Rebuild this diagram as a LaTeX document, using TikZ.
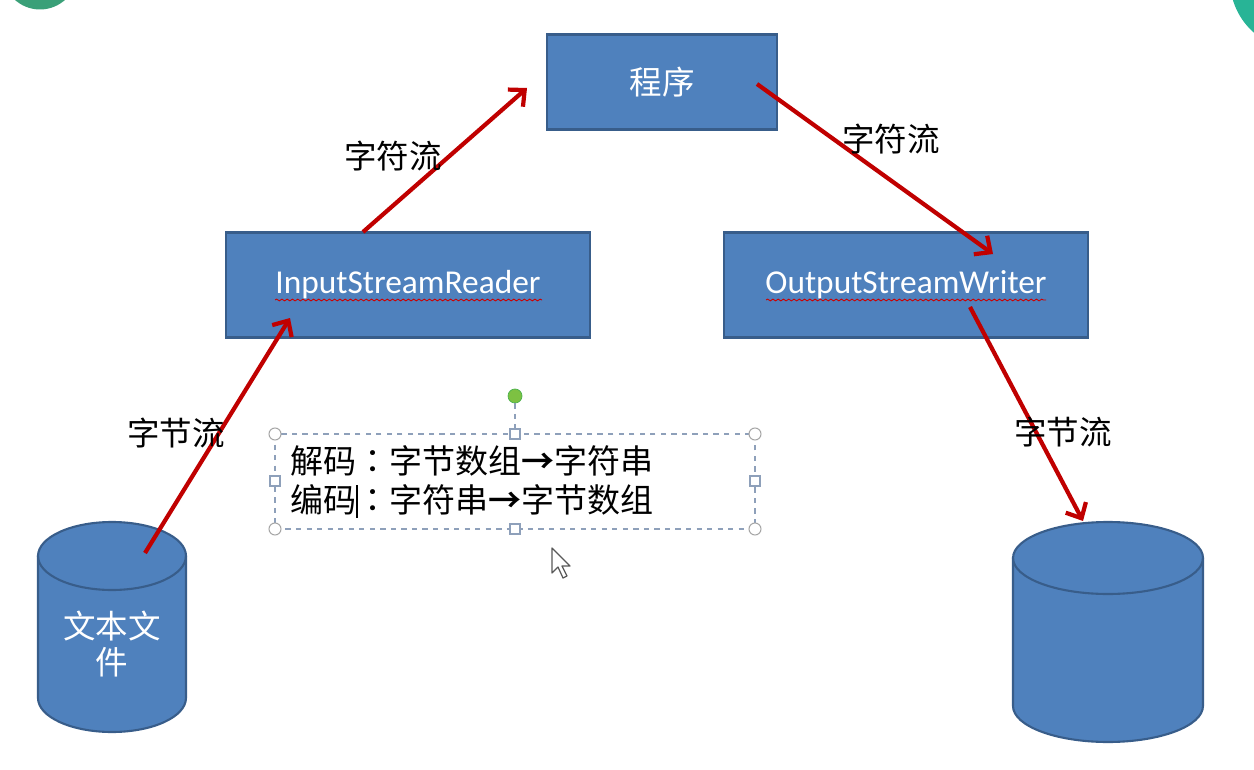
\documentclass[tikz,border=0pt]{standalone}
\usepackage{fontspec}
\setmainfont{Carlito}
\newfontfamily\cjk{Noto Sans CJK SC}
\newfontfamily\cjktc{Noto Sans CJK TC}
\newfontfamily\cjkbold{Noto Sans CJK SC Bold}
\usetikzlibrary{arrows.meta,decorations.pathmorphing}
\definecolor{boxblue}{RGB}{79,129,189}
\definecolor{boxline}{RGB}{56,93,138}
\definecolor{flowred}{RGB}{192,0,0}
\definecolor{handle}{RGB}{142,160,186}
\definecolor{rotgreen}{RGB}{125,193,66}
\definecolor{logoleft}{RGB}{58,160,120}
\definecolor{logoright}{RGB}{40,180,150}
\newcommand{\colonc}{{\cjktc ：}}
\newcommand{\toarr}{{\cjkbold →}}

\begin{document}
\begin{tikzpicture}[x=0.02cm, y=-0.02cm,
    box/.style={draw=boxline, fill=boxblue, line width=1.2pt, text=white, inner sep=0pt},
    cyl/.style={draw=boxline, fill=boxblue, line width=1.2pt},
    flow/.style={draw=flowred, line width=2.4pt, -{Straight Barb[length=7pt,width=13pt]}},
    lbl/.style={font=\cjk\fontsize{18.5}{22}\selectfont, inner sep=0pt},
    code/.style={font=\cjk\fontsize{18.8}{22}\selectfont, inner sep=0pt, anchor=west},
    squig/.style={draw=red!80!black, line width=0.5pt, decorate,
      decoration={snake, amplitude=0.5pt, segment length=3pt}},
    corner/.style={draw=gray!70, fill=white, line width=0.6pt, circle, inner sep=0pt, minimum size=0.24cm},
    side/.style={draw=handle, fill=white, line width=0.6pt, inner sep=0pt, minimum size=0.2cm}]
    \useasboundingbox (0,0) rectangle (1254,770);
    \fill[white] (0,0) rectangle (1254,770);

    % corner marks of the screen
    \begin{scope}
      \clip (0,0) rectangle (1254,770);
      \fill[logoleft] (40,-28) circle[radius=0.75cm];
      \fill[logoright] (1300,-20) circle[radius=1.4cm];
    \end{scope}

    % boxes
    \node[box, minimum width=4.6cm, minimum height=1.9cm, font=\cjk\fontsize{18.5}{22}\selectfont] (prog) at (662,82) {程序};
    \node[box, minimum width=7.28cm, minimum height=2.1cm, font=\fontsize{19}{22}\selectfont] (isr) at (408,285) {InputStreamReader};
    \node[box, minimum width=7.28cm, minimum height=2.1cm, font=\fontsize{19}{22}\selectfont] (osw) at (906,285) {OutputStreamWriter};
    \draw[squig] (275,300) -- (542,300);
    \draw[squig] (766,300) -- (1046,300);

    % cylinders
    \path[cyl] (38,556) -- (38,698) arc[start angle=180, end angle=360, x radius=1.48cm, y radius=0.68cm]
      -- (186,556) arc[start angle=0, end angle=180, x radius=1.48cm, y radius=0.68cm] -- cycle;
    \draw[boxline, line width=1.2pt] (38,556) arc[start angle=180, end angle=360, x radius=1.48cm, y radius=0.68cm];
    \node[lbl, text=white, align=center, font=\cjk\fontsize{18.5}{20}\selectfont] (file) at (112,644) {文本文\\件};

    \path[cyl] (1013,558) -- (1013,706) arc[start angle=180, end angle=360, x radius=1.9cm, y radius=0.72cm]
      -- (1203,558) arc[start angle=0, end angle=180, x radius=1.9cm, y radius=0.72cm] -- cycle;
    \draw[boxline, line width=1.2pt] (1013,558) arc[start angle=180, end angle=360, x radius=1.9cm, y radius=0.72cm];

    % arrow ends
    \coordinate (fileTop) at (145,553);
    \coordinate (isrIn) at (290,318);
    \coordinate (isrOut) at (363,232);
    \coordinate (progIn) at (527,88);
    \coordinate (progOut) at (757,84);
    \coordinate (oswIn) at (993,254);
    \coordinate (oswOut) at (970,307);
    \coordinate (dbTop) at (1083,521);

    \draw[flow] (fileTop) -- (isrIn);
    \draw[flow] (isrOut) -- (progIn);
    \draw[flow] (progOut) -- (oswIn);
    \draw[flow] (oswOut) -- (dbTop);

    \node[lbl] (l1) at (393,156) {字符流};
    \node[lbl] (l2) at (891,139) {字符流};
    \node[lbl] (l3) at (176,433) {字节流};
    \node[lbl] (l4) at (1063,432) {字节流};

    % selected text box
    \coordinate (tbNW) at (275,434);
    \coordinate (tbSE) at (755,529);
    \draw[handle, dashed, line width=0.8pt] (tbNW) rectangle (tbSE);
    \node[code] (dec) at (290,461) {解码\colonc 字节数组\toarr 字符串};
    \node[code] (enc) at (290,500) {编码\colonc 字符串\toarr 字节数组};
    \draw[black, line width=1pt] (357,485) -- (357,518);
    \node[draw=gray!60!green, fill=rotgreen, circle, inner sep=0pt, minimum size=0.28cm] (rot) at (515,396) {};
    \node[side] (hN) at (515,434) {};
    \draw[handle, dashed, line width=0.8pt] (rot) -- (hN);
    \node[side] at (515,529) {};
    \node[side] at (275,481) {};
    \node[side] at (755,481) {};
    \node[corner] at (275,434) {};
    \node[corner] at (755,434) {};
    \node[corner] at (275,529) {};
    \node[corner] at (755,529) {};

    % mouse pointer
    \draw[gray!70!black, fill=white, line width=0.7pt, line join=round]
      (552,548) -- (552,573) -- (558,567) -- (563,578) -- (567,576) -- (562,566) -- (570,566) -- cycle;
  \end{tikzpicture}
\end{document}
